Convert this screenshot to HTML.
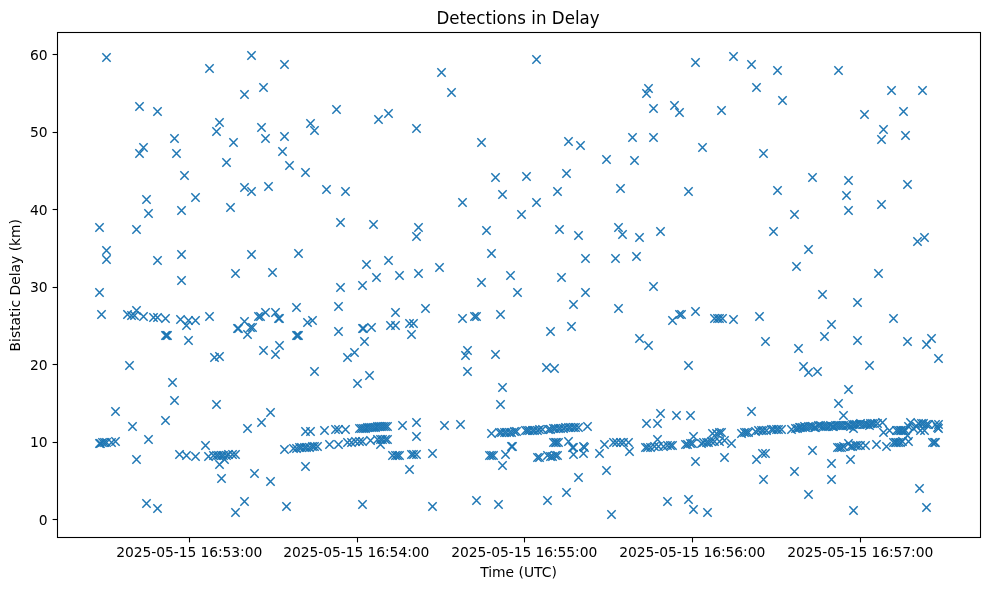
<!DOCTYPE html>
<html><head><meta charset="utf-8"><title>Detections in Delay</title>
<style>html,body{margin:0;padding:0;background:#fff}body{width:989px;height:590px;overflow:hidden}svg{display:block;will-change:transform}text{font-family:"DejaVu Sans","Liberation Sans",sans-serif;fill:#000}.t{font-size:13.89px}.h{font-size:16.67px}.m{stroke:#1f77b4;stroke-width:1.5;fill:none}.a{stroke:#000;stroke-width:1.1;fill:none}</style></head><body>
<svg width="989" height="590" viewBox="0 0 989 590">
<rect width="989" height="590" fill="#fff"/>
<defs><path id="x" d="M-4.17-4.17L4.17 4.17M-4.17 4.17L4.17-4.17"/></defs>
<g class="m">
<use href="#x" x="106.5" y="57.5"/>
<use href="#x" x="251.5" y="55.5"/>
<use href="#x" x="209.5" y="68.5"/>
<use href="#x" x="244.5" y="94.5"/>
<use href="#x" x="139.5" y="106.5"/>
<use href="#x" x="157.5" y="111.5"/>
<use href="#x" x="219.5" y="122.5"/>
<use href="#x" x="216.5" y="131.5"/>
<use href="#x" x="174.5" y="138.5"/>
<use href="#x" x="233.5" y="142.5"/>
<use href="#x" x="143.5" y="147.5"/>
<use href="#x" x="284.5" y="64.5"/>
<use href="#x" x="263.5" y="87.5"/>
<use href="#x" x="441.5" y="72.5"/>
<use href="#x" x="451.5" y="92.5"/>
<use href="#x" x="336.5" y="109.5"/>
<use href="#x" x="388.5" y="113.5"/>
<use href="#x" x="378.5" y="119.5"/>
<use href="#x" x="310.5" y="123.5"/>
<use href="#x" x="314.5" y="130.5"/>
<use href="#x" x="416.5" y="128.5"/>
<use href="#x" x="261.5" y="127.5"/>
<use href="#x" x="265.5" y="138.5"/>
<use href="#x" x="284.5" y="136.5"/>
<use href="#x" x="282.5" y="151.5"/>
<use href="#x" x="536.5" y="59.5"/>
<use href="#x" x="648.5" y="88.5"/>
<use href="#x" x="646.5" y="93.5"/>
<use href="#x" x="653.5" y="108.5"/>
<use href="#x" x="481.5" y="142.5"/>
<use href="#x" x="568.5" y="141.5"/>
<use href="#x" x="580.5" y="145.5"/>
<use href="#x" x="632.5" y="137.5"/>
<use href="#x" x="653.5" y="137.5"/>
<use href="#x" x="695.5" y="62.5"/>
<use href="#x" x="733.5" y="56.5"/>
<use href="#x" x="751.5" y="64.5"/>
<use href="#x" x="777.5" y="70.5"/>
<use href="#x" x="838.5" y="70.5"/>
<use href="#x" x="756.5" y="87.5"/>
<use href="#x" x="782.5" y="100.5"/>
<use href="#x" x="674.5" y="105.5"/>
<use href="#x" x="679.5" y="112.5"/>
<use href="#x" x="721.5" y="110.5"/>
<use href="#x" x="702.5" y="147.5"/>
<use href="#x" x="763.5" y="153.5"/>
<use href="#x" x="891.5" y="90.5"/>
<use href="#x" x="922.5" y="90.5"/>
<use href="#x" x="864.5" y="114.5"/>
<use href="#x" x="903.5" y="111.5"/>
<use href="#x" x="883.5" y="129.5"/>
<use href="#x" x="881.5" y="139.5"/>
<use href="#x" x="905.5" y="135.5"/>
<use href="#x" x="139.5" y="153.5"/>
<use href="#x" x="176.5" y="153.5"/>
<use href="#x" x="226.5" y="162.5"/>
<use href="#x" x="184.5" y="175.5"/>
<use href="#x" x="244.5" y="187.5"/>
<use href="#x" x="251.5" y="191.5"/>
<use href="#x" x="146.5" y="199.5"/>
<use href="#x" x="195.5" y="197.5"/>
<use href="#x" x="230.5" y="207.5"/>
<use href="#x" x="148.5" y="213.5"/>
<use href="#x" x="181.5" y="210.5"/>
<use href="#x" x="99.5" y="227.5"/>
<use href="#x" x="136.5" y="229.5"/>
<use href="#x" x="106.5" y="250.5"/>
<use href="#x" x="106.5" y="259.5"/>
<use href="#x" x="181.5" y="254.5"/>
<use href="#x" x="157.5" y="260.5"/>
<use href="#x" x="251.5" y="254.5"/>
<use href="#x" x="289.5" y="165.5"/>
<use href="#x" x="305.5" y="172.5"/>
<use href="#x" x="268.5" y="186.5"/>
<use href="#x" x="326.5" y="189.5"/>
<use href="#x" x="345.5" y="191.5"/>
<use href="#x" x="340.5" y="222.5"/>
<use href="#x" x="373.5" y="224.5"/>
<use href="#x" x="418.5" y="227.5"/>
<use href="#x" x="416.5" y="236.5"/>
<use href="#x" x="298.5" y="253.5"/>
<use href="#x" x="366.5" y="264.5"/>
<use href="#x" x="388.5" y="260.5"/>
<use href="#x" x="439.5" y="267.5"/>
<use href="#x" x="606.5" y="159.5"/>
<use href="#x" x="634.5" y="160.5"/>
<use href="#x" x="566.5" y="173.5"/>
<use href="#x" x="495.5" y="177.5"/>
<use href="#x" x="526.5" y="176.5"/>
<use href="#x" x="620.5" y="188.5"/>
<use href="#x" x="557.5" y="191.5"/>
<use href="#x" x="502.5" y="194.5"/>
<use href="#x" x="462.5" y="202.5"/>
<use href="#x" x="536.5" y="202.5"/>
<use href="#x" x="521.5" y="214.5"/>
<use href="#x" x="486.5" y="230.5"/>
<use href="#x" x="559.5" y="229.5"/>
<use href="#x" x="578.5" y="235.5"/>
<use href="#x" x="618.5" y="227.5"/>
<use href="#x" x="622.5" y="234.5"/>
<use href="#x" x="639.5" y="237.5"/>
<use href="#x" x="491.5" y="253.5"/>
<use href="#x" x="585.5" y="258.5"/>
<use href="#x" x="615.5" y="258.5"/>
<use href="#x" x="636.5" y="256.5"/>
<use href="#x" x="688.5" y="191.5"/>
<use href="#x" x="812.5" y="177.5"/>
<use href="#x" x="848.5" y="180.5"/>
<use href="#x" x="777.5" y="190.5"/>
<use href="#x" x="846.5" y="195.5"/>
<use href="#x" x="848.5" y="210.5"/>
<use href="#x" x="794.5" y="214.5"/>
<use href="#x" x="660.5" y="231.5"/>
<use href="#x" x="773.5" y="231.5"/>
<use href="#x" x="808.5" y="249.5"/>
<use href="#x" x="796.5" y="266.5"/>
<use href="#x" x="907.5" y="184.5"/>
<use href="#x" x="881.5" y="204.5"/>
<use href="#x" x="924.5" y="237.5"/>
<use href="#x" x="917.5" y="241.5"/>
<use href="#x" x="235.5" y="273.5"/>
<use href="#x" x="181.5" y="280.5"/>
<use href="#x" x="99.5" y="292.5"/>
<use href="#x" x="101.5" y="314.5"/>
<use href="#x" x="129.5" y="365.5"/>
<use href="#x" x="172.5" y="382.5"/>
<use href="#x" x="127.5" y="314.5"/>
<use href="#x" x="131.5" y="315.5"/>
<use href="#x" x="134.5" y="315.5"/>
<use href="#x" x="136.5" y="310.5"/>
<use href="#x" x="143.5" y="316.5"/>
<use href="#x" x="153.5" y="317.5"/>
<use href="#x" x="157.5" y="317.5"/>
<use href="#x" x="165.5" y="318.5"/>
<use href="#x" x="180.5" y="319.5"/>
<use href="#x" x="188.5" y="320.5"/>
<use href="#x" x="195.5" y="320.5"/>
<use href="#x" x="186.5" y="325.5"/>
<use href="#x" x="209.5" y="316.5"/>
<use href="#x" x="188.5" y="340.5"/>
<use href="#x" x="165.5" y="335.5"/>
<use href="#x" x="167.5" y="335.5"/>
<use href="#x" x="214.5" y="357.5"/>
<use href="#x" x="219.5" y="356.5"/>
<use href="#x" x="244.5" y="321.5"/>
<use href="#x" x="237.5" y="328.5"/>
<use href="#x" x="238.5" y="328.5"/>
<use href="#x" x="250.5" y="327.5"/>
<use href="#x" x="252.5" y="327.5"/>
<use href="#x" x="247.5" y="334.5"/>
<use href="#x" x="258.5" y="316.5"/>
<use href="#x" x="260.5" y="316.5"/>
<use href="#x" x="265.5" y="312.5"/>
<use href="#x" x="275.5" y="312.5"/>
<use href="#x" x="278.5" y="318.5"/>
<use href="#x" x="279.5" y="318.5"/>
<use href="#x" x="296.5" y="307.5"/>
<use href="#x" x="307.5" y="322.5"/>
<use href="#x" x="312.5" y="320.5"/>
<use href="#x" x="297.5" y="335.5"/>
<use href="#x" x="298.5" y="335.5"/>
<use href="#x" x="338.5" y="306.5"/>
<use href="#x" x="338.5" y="331.5"/>
<use href="#x" x="263.5" y="350.5"/>
<use href="#x" x="279.5" y="345.5"/>
<use href="#x" x="275.5" y="354.5"/>
<use href="#x" x="272.5" y="272.5"/>
<use href="#x" x="340.5" y="287.5"/>
<use href="#x" x="362.5" y="285.5"/>
<use href="#x" x="376.5" y="277.5"/>
<use href="#x" x="399.5" y="275.5"/>
<use href="#x" x="418.5" y="273.5"/>
<use href="#x" x="314.5" y="371.5"/>
<use href="#x" x="369.5" y="375.5"/>
<use href="#x" x="357.5" y="383.5"/>
<use href="#x" x="395.5" y="312.5"/>
<use href="#x" x="425.5" y="308.5"/>
<use href="#x" x="362.5" y="328.5"/>
<use href="#x" x="363.5" y="328.5"/>
<use href="#x" x="371.5" y="327.5"/>
<use href="#x" x="390.5" y="325.5"/>
<use href="#x" x="395.5" y="325.5"/>
<use href="#x" x="409.5" y="323.5"/>
<use href="#x" x="413.5" y="323.5"/>
<use href="#x" x="411.5" y="334.5"/>
<use href="#x" x="364.5" y="341.5"/>
<use href="#x" x="354.5" y="352.5"/>
<use href="#x" x="347.5" y="357.5"/>
<use href="#x" x="481.5" y="282.5"/>
<use href="#x" x="510.5" y="275.5"/>
<use href="#x" x="561.5" y="277.5"/>
<use href="#x" x="517.5" y="292.5"/>
<use href="#x" x="585.5" y="292.5"/>
<use href="#x" x="653.5" y="286.5"/>
<use href="#x" x="573.5" y="304.5"/>
<use href="#x" x="618.5" y="308.5"/>
<use href="#x" x="462.5" y="318.5"/>
<use href="#x" x="474.5" y="316.5"/>
<use href="#x" x="476.5" y="316.5"/>
<use href="#x" x="500.5" y="314.5"/>
<use href="#x" x="550.5" y="331.5"/>
<use href="#x" x="571.5" y="326.5"/>
<use href="#x" x="639.5" y="338.5"/>
<use href="#x" x="648.5" y="345.5"/>
<use href="#x" x="467.5" y="350.5"/>
<use href="#x" x="465.5" y="355.5"/>
<use href="#x" x="495.5" y="354.5"/>
<use href="#x" x="467.5" y="371.5"/>
<use href="#x" x="546.5" y="367.5"/>
<use href="#x" x="554.5" y="368.5"/>
<use href="#x" x="822.5" y="294.5"/>
<use href="#x" x="672.5" y="320.5"/>
<use href="#x" x="679.5" y="314.5"/>
<use href="#x" x="681.5" y="314.5"/>
<use href="#x" x="695.5" y="311.5"/>
<use href="#x" x="714.5" y="318.5"/>
<use href="#x" x="717.5" y="318.5"/>
<use href="#x" x="719.5" y="318.5"/>
<use href="#x" x="722.5" y="318.5"/>
<use href="#x" x="733.5" y="319.5"/>
<use href="#x" x="759.5" y="316.5"/>
<use href="#x" x="831.5" y="324.5"/>
<use href="#x" x="824.5" y="336.5"/>
<use href="#x" x="765.5" y="341.5"/>
<use href="#x" x="798.5" y="348.5"/>
<use href="#x" x="688.5" y="365.5"/>
<use href="#x" x="803.5" y="366.5"/>
<use href="#x" x="808.5" y="372.5"/>
<use href="#x" x="817.5" y="371.5"/>
<use href="#x" x="878.5" y="273.5"/>
<use href="#x" x="857.5" y="302.5"/>
<use href="#x" x="893.5" y="318.5"/>
<use href="#x" x="857.5" y="340.5"/>
<use href="#x" x="907.5" y="341.5"/>
<use href="#x" x="931.5" y="338.5"/>
<use href="#x" x="926.5" y="344.5"/>
<use href="#x" x="938.5" y="358.5"/>
<use href="#x" x="869.5" y="365.5"/>
<use href="#x" x="174.5" y="400.5"/>
<use href="#x" x="216.5" y="404.5"/>
<use href="#x" x="115.5" y="411.5"/>
<use href="#x" x="165.5" y="420.5"/>
<use href="#x" x="132.5" y="426.5"/>
<use href="#x" x="247.5" y="428.5"/>
<use href="#x" x="148.5" y="439.5"/>
<use href="#x" x="205.5" y="445.5"/>
<use href="#x" x="136.5" y="459.5"/>
<use href="#x" x="221.5" y="478.5"/>
<use href="#x" x="254.5" y="473.5"/>
<use href="#x" x="99.5" y="443.5"/>
<use href="#x" x="100.5" y="443.5"/>
<use href="#x" x="102.5" y="442.5"/>
<use href="#x" x="104.5" y="442.5"/>
<use href="#x" x="106.5" y="442.5"/>
<use href="#x" x="111.5" y="442.5"/>
<use href="#x" x="115.5" y="441.5"/>
<use href="#x" x="179.5" y="454.5"/>
<use href="#x" x="186.5" y="455.5"/>
<use href="#x" x="195.5" y="456.5"/>
<use href="#x" x="208.5" y="456.5"/>
<use href="#x" x="213.5" y="455.5"/>
<use href="#x" x="216.5" y="455.5"/>
<use href="#x" x="218.5" y="455.5"/>
<use href="#x" x="221.5" y="455.5"/>
<use href="#x" x="223.5" y="455.5"/>
<use href="#x" x="226.5" y="455.5"/>
<use href="#x" x="228.5" y="454.5"/>
<use href="#x" x="232.5" y="454.5"/>
<use href="#x" x="235.5" y="454.5"/>
<use href="#x" x="224.5" y="459.5"/>
<use href="#x" x="219.5" y="464.5"/>
<use href="#x" x="270.5" y="412.5"/>
<use href="#x" x="261.5" y="422.5"/>
<use href="#x" x="270.5" y="481.5"/>
<use href="#x" x="305.5" y="431.5"/>
<use href="#x" x="310.5" y="431.5"/>
<use href="#x" x="324.5" y="430.5"/>
<use href="#x" x="335.5" y="429.5"/>
<use href="#x" x="338.5" y="429.5"/>
<use href="#x" x="345.5" y="429.5"/>
<use href="#x" x="359.5" y="428.5"/>
<use href="#x" x="361.5" y="428.5"/>
<use href="#x" x="363.5" y="428.5"/>
<use href="#x" x="365.5" y="428.5"/>
<use href="#x" x="367.5" y="427.5"/>
<use href="#x" x="369.5" y="427.5"/>
<use href="#x" x="371.5" y="427.5"/>
<use href="#x" x="373.5" y="427.5"/>
<use href="#x" x="375.5" y="427.5"/>
<use href="#x" x="377.5" y="426.5"/>
<use href="#x" x="379.5" y="426.5"/>
<use href="#x" x="381.5" y="426.5"/>
<use href="#x" x="383.5" y="426.5"/>
<use href="#x" x="385.5" y="426.5"/>
<use href="#x" x="387.5" y="426.5"/>
<use href="#x" x="284.5" y="449.5"/>
<use href="#x" x="293.5" y="448.5"/>
<use href="#x" x="296.5" y="448.5"/>
<use href="#x" x="299.5" y="447.5"/>
<use href="#x" x="301.5" y="447.5"/>
<use href="#x" x="304.5" y="447.5"/>
<use href="#x" x="306.5" y="447.5"/>
<use href="#x" x="309.5" y="447.5"/>
<use href="#x" x="312.5" y="446.5"/>
<use href="#x" x="314.5" y="446.5"/>
<use href="#x" x="317.5" y="446.5"/>
<use href="#x" x="329.5" y="444.5"/>
<use href="#x" x="338.5" y="444.5"/>
<use href="#x" x="347.5" y="442.5"/>
<use href="#x" x="351.5" y="442.5"/>
<use href="#x" x="355.5" y="441.5"/>
<use href="#x" x="359.5" y="441.5"/>
<use href="#x" x="362.5" y="441.5"/>
<use href="#x" x="370.5" y="440.5"/>
<use href="#x" x="377.5" y="439.5"/>
<use href="#x" x="380.5" y="439.5"/>
<use href="#x" x="382.5" y="439.5"/>
<use href="#x" x="385.5" y="439.5"/>
<use href="#x" x="387.5" y="439.5"/>
<use href="#x" x="380.5" y="444.5"/>
<use href="#x" x="305.5" y="466.5"/>
<use href="#x" x="402.5" y="425.5"/>
<use href="#x" x="416.5" y="422.5"/>
<use href="#x" x="416.5" y="436.5"/>
<use href="#x" x="444.5" y="425.5"/>
<use href="#x" x="460.5" y="424.5"/>
<use href="#x" x="392.5" y="455.5"/>
<use href="#x" x="395.5" y="455.5"/>
<use href="#x" x="397.5" y="455.5"/>
<use href="#x" x="399.5" y="455.5"/>
<use href="#x" x="411.5" y="454.5"/>
<use href="#x" x="413.5" y="454.5"/>
<use href="#x" x="416.5" y="454.5"/>
<use href="#x" x="432.5" y="453.5"/>
<use href="#x" x="409.5" y="469.5"/>
<use href="#x" x="491.5" y="433.5"/>
<use href="#x" x="499.5" y="432.5"/>
<use href="#x" x="501.5" y="432.5"/>
<use href="#x" x="504.5" y="432.5"/>
<use href="#x" x="506.5" y="432.5"/>
<use href="#x" x="509.5" y="432.5"/>
<use href="#x" x="511.5" y="432.5"/>
<use href="#x" x="514.5" y="431.5"/>
<use href="#x" x="516.5" y="431.5"/>
<use href="#x" x="527.5" y="430.5"/>
<use href="#x" x="529.5" y="430.5"/>
<use href="#x" x="532.5" y="430.5"/>
<use href="#x" x="534.5" y="430.5"/>
<use href="#x" x="537.5" y="430.5"/>
<use href="#x" x="539.5" y="429.5"/>
<use href="#x" x="542.5" y="429.5"/>
<use href="#x" x="548.5" y="429.5"/>
<use href="#x" x="550.5" y="429.5"/>
<use href="#x" x="553.5" y="428.5"/>
<use href="#x" x="555.5" y="428.5"/>
<use href="#x" x="558.5" y="428.5"/>
<use href="#x" x="560.5" y="428.5"/>
<use href="#x" x="563.5" y="428.5"/>
<use href="#x" x="565.5" y="427.5"/>
<use href="#x" x="568.5" y="427.5"/>
<use href="#x" x="570.5" y="427.5"/>
<use href="#x" x="573.5" y="427.5"/>
<use href="#x" x="575.5" y="427.5"/>
<use href="#x" x="578.5" y="427.5"/>
<use href="#x" x="587.5" y="426.5"/>
<use href="#x" x="489.5" y="455.5"/>
<use href="#x" x="491.5" y="455.5"/>
<use href="#x" x="493.5" y="455.5"/>
<use href="#x" x="505.5" y="454.5"/>
<use href="#x" x="511.5" y="446.5"/>
<use href="#x" x="512.5" y="446.5"/>
<use href="#x" x="502.5" y="465.5"/>
<use href="#x" x="537.5" y="457.5"/>
<use href="#x" x="539.5" y="457.5"/>
<use href="#x" x="550.5" y="456.5"/>
<use href="#x" x="552.5" y="456.5"/>
<use href="#x" x="555.5" y="455.5"/>
<use href="#x" x="557.5" y="455.5"/>
<use href="#x" x="553.5" y="442.5"/>
<use href="#x" x="555.5" y="442.5"/>
<use href="#x" x="558.5" y="442.5"/>
<use href="#x" x="568.5" y="441.5"/>
<use href="#x" x="572.5" y="447.5"/>
<use href="#x" x="573.5" y="447.5"/>
<use href="#x" x="583.5" y="446.5"/>
<use href="#x" x="573.5" y="454.5"/>
<use href="#x" x="583.5" y="453.5"/>
<use href="#x" x="599.5" y="453.5"/>
<use href="#x" x="578.5" y="477.5"/>
<use href="#x" x="604.5" y="444.5"/>
<use href="#x" x="613.5" y="442.5"/>
<use href="#x" x="616.5" y="442.5"/>
<use href="#x" x="620.5" y="442.5"/>
<use href="#x" x="623.5" y="442.5"/>
<use href="#x" x="628.5" y="442.5"/>
<use href="#x" x="629.5" y="451.5"/>
<use href="#x" x="606.5" y="470.5"/>
<use href="#x" x="646.5" y="423.5"/>
<use href="#x" x="657.5" y="423.5"/>
<use href="#x" x="660.5" y="413.5"/>
<use href="#x" x="676.5" y="415.5"/>
<use href="#x" x="690.5" y="415.5"/>
<use href="#x" x="645.5" y="447.5"/>
<use href="#x" x="647.5" y="447.5"/>
<use href="#x" x="650.5" y="447.5"/>
<use href="#x" x="654.5" y="446.5"/>
<use href="#x" x="657.5" y="439.5"/>
<use href="#x" x="658.5" y="446.5"/>
<use href="#x" x="663.5" y="446.5"/>
<use href="#x" x="667.5" y="445.5"/>
<use href="#x" x="670.5" y="445.5"/>
<use href="#x" x="672.5" y="445.5"/>
<use href="#x" x="695.5" y="461.5"/>
<use href="#x" x="751.5" y="411.5"/>
<use href="#x" x="685.5" y="444.5"/>
<use href="#x" x="687.5" y="444.5"/>
<use href="#x" x="690.5" y="443.5"/>
<use href="#x" x="692.5" y="443.5"/>
<use href="#x" x="693.5" y="436.5"/>
<use href="#x" x="701.5" y="443.5"/>
<use href="#x" x="703.5" y="442.5"/>
<use href="#x" x="706.5" y="442.5"/>
<use href="#x" x="708.5" y="442.5"/>
<use href="#x" x="711.5" y="441.5"/>
<use href="#x" x="712.5" y="433.5"/>
<use href="#x" x="716.5" y="433.5"/>
<use href="#x" x="719.5" y="432.5"/>
<use href="#x" x="721.5" y="432.5"/>
<use href="#x" x="714.5" y="441.5"/>
<use href="#x" x="719.5" y="441.5"/>
<use href="#x" x="724.5" y="440.5"/>
<use href="#x" x="731.5" y="443.5"/>
<use href="#x" x="741.5" y="433.5"/>
<use href="#x" x="744.5" y="432.5"/>
<use href="#x" x="746.5" y="432.5"/>
<use href="#x" x="758.5" y="430.5"/>
<use href="#x" x="761.5" y="430.5"/>
<use href="#x" x="763.5" y="430.5"/>
<use href="#x" x="766.5" y="430.5"/>
<use href="#x" x="771.5" y="429.5"/>
<use href="#x" x="773.5" y="429.5"/>
<use href="#x" x="776.5" y="429.5"/>
<use href="#x" x="778.5" y="429.5"/>
<use href="#x" x="781.5" y="429.5"/>
<use href="#x" x="724.5" y="457.5"/>
<use href="#x" x="756.5" y="459.5"/>
<use href="#x" x="762.5" y="453.5"/>
<use href="#x" x="765.5" y="453.5"/>
<use href="#x" x="763.5" y="479.5"/>
<use href="#x" x="794.5" y="471.5"/>
<use href="#x" x="795.5" y="428.5"/>
<use href="#x" x="797.5" y="428.5"/>
<use href="#x" x="799.5" y="427.5"/>
<use href="#x" x="800.5" y="427.5"/>
<use href="#x" x="802.5" y="427.5"/>
<use href="#x" x="804.5" y="426.5"/>
<use href="#x" x="805.5" y="427.5"/>
<use href="#x" x="808.5" y="426.5"/>
<use href="#x" x="810.5" y="426.5"/>
<use href="#x" x="812.5" y="426.5"/>
<use href="#x" x="814.5" y="427.5"/>
<use href="#x" x="815.5" y="427.5"/>
<use href="#x" x="818.5" y="425.5"/>
<use href="#x" x="820.5" y="425.5"/>
<use href="#x" x="822.5" y="426.5"/>
<use href="#x" x="824.5" y="426.5"/>
<use href="#x" x="826.5" y="426.5"/>
<use href="#x" x="828.5" y="426.5"/>
<use href="#x" x="830.5" y="425.5"/>
<use href="#x" x="832.5" y="426.5"/>
<use href="#x" x="833.5" y="426.5"/>
<use href="#x" x="835.5" y="425.5"/>
<use href="#x" x="837.5" y="425.5"/>
<use href="#x" x="839.5" y="425.5"/>
<use href="#x" x="841.5" y="425.5"/>
<use href="#x" x="843.5" y="425.5"/>
<use href="#x" x="846.5" y="425.5"/>
<use href="#x" x="848.5" y="425.5"/>
<use href="#x" x="850.5" y="426.5"/>
<use href="#x" x="852.5" y="424.5"/>
<use href="#x" x="854.5" y="424.5"/>
<use href="#x" x="856.5" y="424.5"/>
<use href="#x" x="859.5" y="424.5"/>
<use href="#x" x="860.5" y="423.5"/>
<use href="#x" x="863.5" y="424.5"/>
<use href="#x" x="865.5" y="424.5"/>
<use href="#x" x="867.5" y="424.5"/>
<use href="#x" x="869.5" y="425.5"/>
<use href="#x" x="870.5" y="423.5"/>
<use href="#x" x="872.5" y="423.5"/>
<use href="#x" x="874.5" y="423.5"/>
<use href="#x" x="877.5" y="423.5"/>
<use href="#x" x="791.5" y="429.5"/>
<use href="#x" x="882.5" y="422.5"/>
<use href="#x" x="853.5" y="428.5"/>
<use href="#x" x="843.5" y="415.5"/>
<use href="#x" x="837.5" y="447.5"/>
<use href="#x" x="839.5" y="447.5"/>
<use href="#x" x="841.5" y="447.5"/>
<use href="#x" x="843.5" y="446.5"/>
<use href="#x" x="848.5" y="443.5"/>
<use href="#x" x="850.5" y="446.5"/>
<use href="#x" x="852.5" y="446.5"/>
<use href="#x" x="855.5" y="445.5"/>
<use href="#x" x="857.5" y="445.5"/>
<use href="#x" x="860.5" y="445.5"/>
<use href="#x" x="865.5" y="445.5"/>
<use href="#x" x="876.5" y="444.5"/>
<use href="#x" x="886.5" y="446.5"/>
<use href="#x" x="812.5" y="450.5"/>
<use href="#x" x="831.5" y="463.5"/>
<use href="#x" x="850.5" y="459.5"/>
<use href="#x" x="831.5" y="479.5"/>
<use href="#x" x="883.5" y="432.5"/>
<use href="#x" x="889.5" y="430.5"/>
<use href="#x" x="896.5" y="430.5"/>
<use href="#x" x="898.5" y="430.5"/>
<use href="#x" x="900.5" y="430.5"/>
<use href="#x" x="901.5" y="430.5"/>
<use href="#x" x="903.5" y="430.5"/>
<use href="#x" x="905.5" y="430.5"/>
<use href="#x" x="910.5" y="422.5"/>
<use href="#x" x="918.5" y="423.5"/>
<use href="#x" x="921.5" y="423.5"/>
<use href="#x" x="923.5" y="423.5"/>
<use href="#x" x="926.5" y="424.5"/>
<use href="#x" x="928.5" y="424.5"/>
<use href="#x" x="935.5" y="424.5"/>
<use href="#x" x="938.5" y="424.5"/>
<use href="#x" x="937.5" y="427.5"/>
<use href="#x" x="938.5" y="428.5"/>
<use href="#x" x="908.5" y="426.5"/>
<use href="#x" x="913.5" y="428.5"/>
<use href="#x" x="916.5" y="426.5"/>
<use href="#x" x="920.5" y="430.5"/>
<use href="#x" x="924.5" y="430.5"/>
<use href="#x" x="893.5" y="442.5"/>
<use href="#x" x="895.5" y="442.5"/>
<use href="#x" x="896.5" y="442.5"/>
<use href="#x" x="898.5" y="442.5"/>
<use href="#x" x="900.5" y="442.5"/>
<use href="#x" x="902.5" y="441.5"/>
<use href="#x" x="908.5" y="441.5"/>
<use href="#x" x="907.5" y="435.5"/>
<use href="#x" x="932.5" y="442.5"/>
<use href="#x" x="934.5" y="442.5"/>
<use href="#x" x="935.5" y="442.5"/>
<use href="#x" x="502.5" y="387.5"/>
<use href="#x" x="500.5" y="404.5"/>
<use href="#x" x="848.5" y="389.5"/>
<use href="#x" x="838.5" y="403.5"/>
<use href="#x" x="146.5" y="503.5"/>
<use href="#x" x="157.5" y="508.5"/>
<use href="#x" x="244.5" y="501.5"/>
<use href="#x" x="235.5" y="512.5"/>
<use href="#x" x="286.5" y="506.5"/>
<use href="#x" x="362.5" y="504.5"/>
<use href="#x" x="432.5" y="506.5"/>
<use href="#x" x="476.5" y="500.5"/>
<use href="#x" x="498.5" y="504.5"/>
<use href="#x" x="547.5" y="500.5"/>
<use href="#x" x="566.5" y="492.5"/>
<use href="#x" x="611.5" y="514.5"/>
<use href="#x" x="667.5" y="501.5"/>
<use href="#x" x="688.5" y="499.5"/>
<use href="#x" x="693.5" y="509.5"/>
<use href="#x" x="707.5" y="512.5"/>
<use href="#x" x="808.5" y="494.5"/>
<use href="#x" x="853.5" y="510.5"/>
<use href="#x" x="919.5" y="488.5"/>
<use href="#x" x="926.5" y="507.5"/>
<use href="#x" x="525.5" y="430.5"/>
<use href="#x" x="547.5" y="455.5"/>
<use href="#x" x="556.5" y="442.5"/>
<use href="#x" x="584.5" y="447.5"/>
<use href="#x" x="748.5" y="432.5"/>
<use href="#x" x="755.5" y="431.5"/>
<use href="#x" x="166.5" y="335.5"/>
<use href="#x" x="296.5" y="335.5"/>
</g>
<rect class="a" x="57.5" y="32.5" width="923.0" height="505.0"/>
<g class="a">
<path d="M189.5 537.5v4.9"/>
<path d="M357.5 537.5v4.9"/>
<path d="M524.5 537.5v4.9"/>
<path d="M692.5 537.5v4.9"/>
<path d="M860.5 537.5v4.9"/>
<path d="M57.5 519.5h-4.9"/>
<path d="M57.5 442.5h-4.9"/>
<path d="M57.5 364.5h-4.9"/>
<path d="M57.5 287.5h-4.9"/>
<path d="M57.5 209.5h-4.9"/>
<path d="M57.5 132.5h-4.9"/>
<path d="M57.5 54.5h-4.9"/>
</g>
<g class="t">
<text x="189.24" y="556.6" text-anchor="middle" style="letter-spacing:-0.075px">2025-05-15 16:53:00</text>
<text x="356.27" y="556.6" text-anchor="middle" style="letter-spacing:-0.075px">2025-05-15 16:54:00</text>
<text x="524.24" y="556.6" text-anchor="middle" style="letter-spacing:-0.075px">2025-05-15 16:55:00</text>
<text x="692.24" y="556.6" text-anchor="middle" style="letter-spacing:-0.075px">2025-05-15 16:56:00</text>
<text x="860.24" y="556.6" text-anchor="middle" style="letter-spacing:-0.075px">2025-05-15 16:57:00</text>
<text x="47.6" y="524.6" text-anchor="end">0</text>
<text x="47.6" y="447.1" text-anchor="end">10</text>
<text x="47.6" y="369.6" text-anchor="end">20</text>
<text x="47.6" y="292.1" text-anchor="end">30</text>
<text x="47.6" y="214.6" text-anchor="end">40</text>
<text x="47.6" y="137.1" text-anchor="end">50</text>
<text x="47.6" y="59.6" text-anchor="end">60</text>
<text x="518.5" y="576.7" text-anchor="middle">Time (UTC)</text>
<text transform="translate(20.2,285.2) rotate(-90)" text-anchor="middle">Bistatic Delay (km)</text>
</g>
<text class="h" transform="translate(518.0,23.9) scale(1,1.075)" text-anchor="middle">Detections in Delay</text>
</svg></body></html>
